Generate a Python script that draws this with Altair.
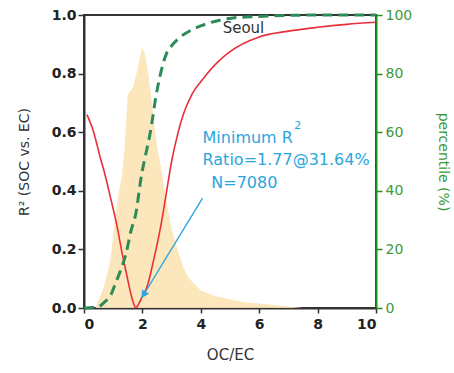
import altair as alt
import pandas as pd

# histogram of OC/EC (scaled to left axis)
hist_x = [0.4, 0.5, 0.6, 0.7, 0.8, 0.9, 1.0, 1.1, 1.2, 1.3, 1.4, 1.5, 1.6, 1.7, 1.8, 1.9,
          2.0, 2.1, 2.2, 2.3, 2.4, 2.5, 2.6, 2.7, 2.8, 2.9, 3.0, 3.2, 3.4, 3.6, 3.8, 4.0,
          4.5, 5.0, 5.5, 6.0, 6.5, 7.0, 7.5]
hist_y = [0.0, 0.03, 0.05, 0.08, 0.12, 0.16, 0.25, 0.33, 0.40, 0.45, 0.56, 0.73, 0.74, 0.76,
          0.80, 0.85, 0.89, 0.86, 0.80, 0.72, 0.63, 0.55, 0.50, 0.44, 0.38, 0.32, 0.27, 0.20,
          0.14, 0.10, 0.08, 0.06, 0.04, 0.03, 0.02, 0.015, 0.01, 0.005, 0.0]

# R2 (SOC vs EC) vs OC/EC ratio
r2_x = [0.1, 0.3, 0.58, 0.68, 0.9, 1.13, 1.3, 1.47, 1.6, 1.7, 1.77, 1.85, 2.0, 2.15, 2.4,
        2.63, 2.8, 3.0, 3.2, 3.4, 3.7, 4.06, 4.64, 5.0, 6.0, 7.0, 8.0, 9.0, 10.0]
r2_y = [0.66, 0.61, 0.505, 0.47, 0.38, 0.28, 0.19, 0.11, 0.05, 0.015, 0.0, 0.01, 0.04, 0.07,
        0.17, 0.28, 0.38, 0.50, 0.59, 0.66, 0.73, 0.78, 0.845, 0.875, 0.925, 0.945, 0.958,
        0.968, 0.975]

# cumulative percentile (%)
pct_x = [0.0, 0.5, 0.7, 0.92, 1.1, 1.26, 1.45, 1.6, 1.77, 1.98, 2.05, 2.29, 2.46, 2.6, 2.83,
         3.0, 3.3, 3.7, 4.2, 5.1, 6.0, 8.0, 10.0]
pct_y = [0.0, 0.5, 2.0, 4.5, 9.0, 13.0, 19.0, 26.0, 32.0, 46.0, 49.5, 61.0, 72.0, 79.0, 87.0,
         89.5, 92.5, 95.0, 97.0, 99.0, 99.5, 100.0, 100.0]

RED = "#e8303a"
GREEN = "#2e8b57"
GREEN_TXT = "#3a9a3a"
BLUE = "#2aa6de"
ORANGE = "#fce3b4"
DARK = "#222222"
FONT = "DejaVu Sans"

hist_df = pd.DataFrame({"x": hist_x, "y": hist_y})
r2_df = pd.DataFrame({"x": r2_x, "y": r2_y})
pct_df = pd.DataFrame({"x": pct_x, "p": pct_y})

xenc = alt.X("x:Q", scale=alt.Scale(domain=[0, 10], nice=False),
             axis=alt.Axis(title="OC/EC", values=[0, 2, 4, 6, 8, 10], grid=False,
                           domainColor="#333", domainWidth=2, tickColor="#333",
                           tickWidth=1.5, tickSize=5, labelPadding=4,
                           labelFont=FONT, labelFontSize=14, labelFontWeight="bold",
                           labelColor=DARK, titleFont=FONT, titleFontSize=15,
                           titleFontWeight="normal", titleColor="#333", titlePadding=16))

yscale = alt.Scale(domain=[0, 1], nice=False)
yaxis = alt.Axis(title="R² (SOC vs. EC)", values=[0, 0.2, 0.4, 0.6, 0.8, 1.0], format=".1f",
                 grid=False, domainColor="#333", domainWidth=2, tickColor="#333",
                 tickWidth=1.5, tickSize=6, labelPadding=2, labelFont=FONT,
                 labelFontSize=14, labelFontWeight="bold", labelColor=DARK,
                 titleFont=FONT, titleFontSize=14, titleFontWeight="normal",
                 titleColor="#333", titlePadding=20)


def yenc():
    return alt.Y("y:Q", scale=yscale, axis=yaxis)


area = alt.Chart(hist_df).mark_area(color=ORANGE, opacity=0.9).encode(x=xenc, y=yenc())

red = alt.Chart(r2_df).mark_line(color=RED, strokeWidth=1.6, interpolate="monotone").encode(
    x="x:Q", y=yenc())

arrow_df = pd.DataFrame({"x": [4.06, 1.98], "y": [0.375, 0.035]})
arrow = alt.Chart(arrow_df).mark_line(color=BLUE, strokeWidth=1.4).encode(x="x:Q", y=yenc())
head = alt.Chart(pd.DataFrame({"x": [2.04], "y": [0.045]})).mark_point(
    shape="triangle-up", angle=211, filled=True, size=70, color=BLUE, opacity=1).encode(
    x="x:Q", y=yenc())


def label(text, x, y, size=16, color=BLUE, align="left", baseline="alphabetic"):
    return alt.Chart(pd.DataFrame({"x": [x], "y": [y]})).mark_text(
        text=text, font=FONT, fontSize=size, color=color, align=align,
        baseline=baseline).encode(x="x:Q", y=yenc())


t1 = label("Minimum R", 4.06, 0.563)
t1s = label("2", 7.2, 0.612, size=11)
t2 = label("Ratio=1.77@31.64%", 4.06, 0.488)
t3 = label("N=7080", 4.36, 0.41)
seoul = label("Seoul", 5.46, 0.955, size=15, color="#333", align="center", baseline="middle")

left = alt.layer(area, red, arrow, head, t1, t1s, t2, t3, seoul)

green = alt.Chart(pct_df).mark_line(color=GREEN, strokeWidth=3, strokeDash=[10, 6],
                                    interpolate="monotone").encode(
    x="x:Q",
    y=alt.Y("p:Q", scale=alt.Scale(domain=[0, 100], nice=False),
            axis=alt.Axis(orient="right", title="percentile (%)",
                          values=[0, 20, 40, 60, 80, 100], grid=False,
                          domainColor="#1f8f1f", domainWidth=2, tickColor="#1f8f1f",
                          tickWidth=1.5, tickSize=6, labelPadding=3, labelFont=FONT,
                          labelFontSize=14, labelColor=GREEN_TXT, titleFont=FONT,
                          titleFontSize=14, titleFontWeight="normal", titleColor=GREEN_TXT,
                          titlePadding=24, titleAngle=90, zindex=1)))

chart = alt.layer(left, green).resolve_scale(y="independent").properties(
    width=292, height=293, autosize="none",
    padding={"left": 84, "top": 15, "right": 78, "bottom": 65},
    background="white"
).configure_view(stroke="#333", strokeWidth=2)

chart.save("out.html", embed_options={"renderer": "svg", "actions": False})
